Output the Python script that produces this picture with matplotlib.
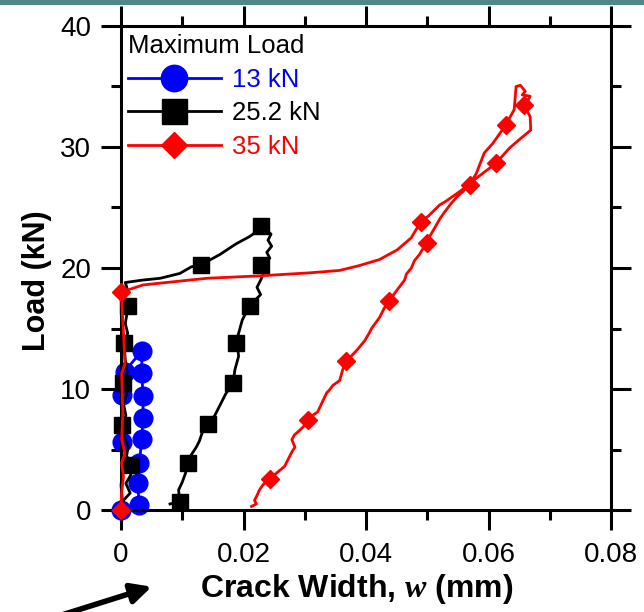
import matplotlib
matplotlib.use("Agg")
import matplotlib.pyplot as plt
from matplotlib.lines import Line2D
from matplotlib.patches import Rectangle
from matplotlib.ticker import MultipleLocator, FuncFormatter

plt.rcParams['font.family'] = ['Liberation Sans', 'DejaVu Sans']
plt.rcParams['mathtext.fontset'] = 'custom'
plt.rcParams['mathtext.it'] = 'Liberation Serif:bold:italic'
plt.rcParams['mathtext.rm'] = 'Liberation Sans:bold'

# ---------------- data (crack width in mm, load in kN) ----------------
series_labels = ["13 kN", "25.2 kN", "35 kN"]
legend_title = "Maximum Load"

# 13 kN test
blue_x = [0.0, 0.0002, 0.0, 0.0002, 0.0001, 0.0001, 0.0003, 0.0001, 0.0001, 0.0003,
          0.0007, 0.0015, 0.0025, 0.0034, 0.0034, 0.0036, 0.0036, 0.0034, 0.0030,
          0.0027, 0.0030]
blue_y = [0.0, 1.0, 2.0, 3.2, 4.4, 5.6, 7.0, 8.3, 9.5, 10.5,
          11.4, 12.0, 12.6, 13.1, 11.3, 9.4, 7.6, 5.9, 3.9,
          2.2, 0.4]
blue_mx = [0.0, 0.0001, 0.0001, 0.0007, 0.0034, 0.0034, 0.0036, 0.0036, 0.0034,
           0.0030, 0.0027, 0.0030]
blue_my = [0.0, 5.6, 9.5, 11.4, 13.1, 11.3, 9.4, 7.6, 5.9, 3.9, 2.2, 0.4]

# 25.2 kN test
black_x = [0.0, 0.0004, 0.0015, 0.0008, 0.0016, 0.0017, 0.0009, 0.0012, 0.0004, 0.0001,
           0.0008, 0.0004, 0.0009, 0.0004, 0.0010, 0.0007, 0.0005, 0.0011, 0.0007, 0.0012,
           0.0006, 0.0010, 0.0007, 0.0035, 0.0064, 0.0096, 0.0115, 0.0130, 0.0161, 0.0188,
           0.0210, 0.0221, 0.0229, 0.0238, 0.0245, 0.0240, 0.0246, 0.0238, 0.0243, 0.0229,
           0.0233, 0.0228, 0.0222, 0.0228, 0.0210, 0.0203, 0.0198, 0.0192, 0.0188, 0.0191,
           0.0192, 0.0186, 0.0183, 0.0171, 0.0163, 0.0153, 0.0142, 0.0134, 0.0128, 0.0123,
           0.0114, 0.0110, 0.0105, 0.0100, 0.0094, 0.0096, 0.0080]
black_y = [0.0, 0.8, 1.4, 2.2, 2.9, 3.7, 4.5, 5.2, 6.1, 7.0,
           7.8, 8.8, 9.6, 10.5, 11.4, 12.4, 13.8, 14.6, 15.4, 16.9,
           17.6, 18.3, 18.8, 19.0, 19.15, 19.55, 20.1, 20.25, 21.1, 22.0,
           22.6, 23.0, 23.5, 23.1, 22.8, 22.3, 21.8, 21.3, 20.8, 20.25,
           19.6, 19.0, 18.4, 17.8, 16.9, 16.2, 15.7, 14.6, 13.8, 13.2,
           12.7, 11.6, 10.5, 9.6, 8.8, 7.8, 7.1, 6.6, 5.7, 5.2,
           4.5, 3.9, 3.0, 2.3, 1.65, 0.7, 0.5]
black_mx = [0.0017, 0.0001, 0.0004, 0.0005, 0.0012, 0.0130, 0.0229, 0.0229, 0.0210,
            0.0188, 0.0183, 0.0142, 0.0110, 0.0096]
black_my = [3.7, 7.0, 10.5, 13.8, 16.9, 20.25, 23.5, 20.25, 16.9, 13.8, 10.5, 7.1, 3.9, 0.7]

# 35 kN test
red_x = [0.0, 0.0001, 0.0004, 0.0001, 0.00065, 0.0001, 0.0003, 0.0001, 0.00065, 0.0004,
         0.0001, 0.0, 0.0036, 0.0140, 0.0226, 0.0308, 0.0357, 0.0389, 0.0422, 0.0451,
         0.0474, 0.0489, 0.0502, 0.0520, 0.0530, 0.0544, 0.0569, 0.0580, 0.0593, 0.0607,
         0.0628, 0.0642, 0.0645, 0.0652, 0.0660, 0.0655, 0.0668, 0.0664, 0.0658, 0.0668,
         0.0669, 0.0650, 0.0634, 0.0612, 0.0590, 0.0572, 0.0558, 0.0549, 0.0540, 0.0528,
         0.0521, 0.0512, 0.0505,
         0.0499, 0.0487, 0.0479, 0.0474, 0.0466, 0.0463, 0.0451, 0.0438, 0.0430, 0.0422,
         0.0409, 0.0405, 0.0398, 0.0385, 0.0368, 0.0362, 0.0357, 0.0346, 0.0340, 0.0336,
         0.0321, 0.0315, 0.0306, 0.0298, 0.0292, 0.0283, 0.0279, 0.0284, 0.0279, 0.0267,
         0.0255, 0.0243, 0.0232, 0.0226, 0.0222, 0.0218, 0.0221, 0.0213]
red_y = [0.0, 1.4, 2.75, 3.9, 4.7, 5.8, 8.0, 11.3, 12.1, 14.6,
         17.4, 18.0, 18.6, 19.15, 19.35, 19.6, 19.8, 20.2, 20.7, 21.5,
         22.5, 23.8, 24.3, 25.2, 25.5, 26.0, 26.9, 27.8, 29.5, 30.3,
         31.8, 33.1, 35.0, 35.1, 34.6, 34.3, 34.2, 33.8, 33.5, 32.5,
         31.4, 30.6, 29.9, 28.65, 27.8, 27.1, 26.3, 25.9, 25.4, 24.6,
         24.1, 23.3, 22.7,
         22.1, 21.1, 20.6, 20.0, 19.5, 19.0, 18.2, 17.3, 16.7, 15.9,
         15.0, 14.6, 14.0, 13.2, 12.3, 11.6, 10.7, 10.3, 9.9, 9.7,
         8.1, 7.9, 7.4, 6.9, 6.6, 6.2, 5.8, 5.2, 4.8, 3.6,
         3.1, 2.6, 2.1, 1.65, 1.2, 0.8, 0.5, 0.3]
red_mx = [0.0, 0.0, 0.0489, 0.0569, 0.0628, 0.0658, 0.0612, 0.0499, 0.0438, 0.0368,
          0.0306, 0.0243]
red_my = [0.0, 18.0, 23.8, 26.9, 31.8, 33.5, 28.65, 22.1, 17.3, 12.3, 7.4, 2.6]

x_ticks = [0.0, 0.02, 0.04, 0.06, 0.08]
y_ticks = [0, 10, 20, 30, 40]

# ---------------- figure ----------------
W, H = 644, 612
fig = plt.figure(figsize=(W / 100, H / 100), dpi=100)
fig.patch.set_facecolor('white')
fig.patches.append(Rectangle((0, 1 - 5 / H), 1, 5 / H, transform=fig.transFigure,
                             facecolor='#4f8884', edgecolor='none', zorder=0))

ax = fig.add_axes([121 / W, 1 - 510 / H, 490 / W, 484 / H])

BLUE, BLACK, RED = '#0000ff', '#000000', '#ff0000'

ax.plot(blue_x, blue_y, color=BLUE, lw=2.0, clip_on=False, zorder=2)
ax.plot(blue_mx, blue_my, ls='none', marker='o', ms=13.5, color=BLUE,
        mec=BLUE, clip_on=False, zorder=2)
ax.plot(black_x, black_y, color=BLACK, lw=2.0, clip_on=False, zorder=3)
ax.plot(black_mx, black_my, ls='none', marker='s', ms=11, color=BLACK,
        clip_on=False, zorder=3)
ax.plot(red_x, red_y, color=RED, lw=2.0, clip_on=False, zorder=4)
ax.plot(red_mx, red_my, ls='none', marker='D', ms=9.5, color=RED,
        clip_on=False, zorder=4)

ax.set_xlim(x_ticks[0], x_ticks[-1])
ax.set_ylim(y_ticks[0], y_ticks[-1])
ax.set_xticks(x_ticks)
ax.set_yticks(y_ticks)
ax.xaxis.set_minor_locator(MultipleLocator(0.01))
ax.yaxis.set_minor_locator(MultipleLocator(5))
ax.xaxis.set_major_formatter(FuncFormatter(lambda v, p: '0' if abs(v) < 1e-12 else f'{v:.2f}'))
ax.yaxis.set_major_formatter(FuncFormatter(lambda v, p: f'{v:.0f}'))

for s in ax.spines.values():
    s.set_linewidth(2.2)
ax.tick_params(which='both', direction='out', top=True, right=True, width=2.2,
               labelsize=20, colors='black')
ax.tick_params(which='major', length=14.4)
ax.tick_params(axis='x', which='major', pad=9)
ax.tick_params(axis='y', which='major', pad=7)
ax.tick_params(which='minor', length=7.2)

# axis labels
fig.text(37 / W, 1 - 281 / H, 'Load (kN)', rotation=90, ha='center', va='center',
         fontsize=22, fontweight='bold')
fig.text(357 / W, 1 - 589 / H, r'Crack Width, $w$ (mm)', ha='center', va='center',
         fontsize=23, fontweight='bold')

# legend
handles = [Line2D([], [], color=BLUE, lw=2.0, marker='o', ms=19, mec=BLUE),
           Line2D([], [], color=BLACK, lw=2.0, marker='s', ms=18),
           Line2D([], [], color=RED, lw=2.0, marker='D', ms=13)]
leg = ax.legend(handles, series_labels, title=legend_title, loc='upper left',
                bbox_to_anchor=(128 / W, 1 - 34 / H), bbox_transform=fig.transFigure,
                frameon=False, fontsize=18.5, title_fontsize=18.5, borderpad=0,
                borderaxespad=0, handlelength=3.6, handletextpad=0.45,
                labelspacing=0.37, alignment='left')
for txt, c in zip(leg.get_texts(), [BLUE, BLACK, RED]):
    txt.set_color(c)

# arrow at bottom-left
ax.annotate('', xy=(151.7 / W, 1 - 586.7 / H), xycoords='figure fraction',
            xytext=(30 / W, 1 - 625 / H), textcoords='figure fraction',
            arrowprops=dict(arrowstyle='-|>', color='black', lw=4, mutation_scale=30,
                            shrinkA=0, shrinkB=0),
            annotation_clip=False)

fig.savefig('out.png', dpi=100)
